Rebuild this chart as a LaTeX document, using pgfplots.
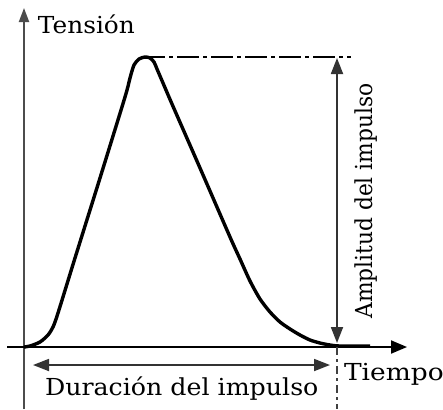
\documentclass[border=0pt]{standalone}
\usepackage{pgfplots}
\pgfplotsset{compat=1.18}
\usepackage{fontspec}
\setmainfont{DejaVu Serif}
\usetikzlibrary{arrows.meta}
\tikzset{lbl/.style={font=\fontsize{11.7}{14}\selectfont, inner sep=0pt, outer sep=0pt}}
\begin{document}
\begin{tikzpicture}
\useasboundingbox (0,0) rectangle (221.5pt,204.5pt);
\clip (0,0) rectangle (221.5pt,204.5pt);
\begin{axis}[
  scale only axis, width=221.5pt, height=204.5pt,
  xmin=0, xmax=443, ymin=0, ymax=409, y dir=reverse,
  hide axis, clip=false]
% axes
\draw[black!70, line width=1pt, -{Triangle[length=7pt,width=5pt]}]
  (axis cs:24,409) -- (axis cs:24,8);
\draw[black, line width=1pt, -{Triangle[length=8pt,width=6.5pt]}]
  (axis cs:7,347) -- (axis cs:407,347);
% pulse
\addplot[black, line width=1.7pt, smooth, tension=0.45] coordinates {
  (24,347) (30,346) (40,342) (48,335) (53,327) (58,313) (75,258) (100,178)
  (125,97) (130,78) (134,65) (139,59) (145,57) (150,58) (154,62) (157,69)
  (163,83) (172,104) (200,168) (230,237) (240,259) (250,281) (260,299)
  (270,312) (280,322) (290,329) (300,335) (310,340) (320,343) (330,345)
  (340,346) (370,346)};
% amplitude
\draw[black, line width=0.8pt, dash pattern=on 11pt off 2pt on 2pt off 2pt]
  (axis cs:143,57) -- (axis cs:351,57);
\draw[black!75, line width=0.8pt, dash pattern=on 4pt off 2pt on 1.5pt off 2pt]
  (axis cs:337,347) -- (axis cs:337,409);
\draw[black!80, line width=0.9pt, {Triangle[length=8pt,width=6pt]}-{Triangle[length=8pt,width=6pt]}]
  (axis cs:337,58) -- (axis cs:337,343);
\node[lbl, rotate=90, anchor=base] at (axis cs:372,201)
  {\scalebox{0.93}[1]{Amplitud del impulso}};
% duration
\draw[black!80, line width=0.9pt, {Triangle[length=8pt,width=6pt]}-{Triangle[length=8pt,width=6pt]}]
  (axis cs:33,365) -- (axis cs:330,365);
\node[lbl, anchor=base west] at (axis cs:45,395)
  {\scalebox{1.08}[1]{Duración del impulso}};
% labels
\node[lbl, anchor=base west] at (axis cs:38,33) {\scalebox{1.06}[1]{Tensión}};
\node[lbl, anchor=base west] at (axis cs:344,380) {\scalebox{1.13}[1]{Tiempo}};
\end{axis}
\end{tikzpicture}
\end{document}
